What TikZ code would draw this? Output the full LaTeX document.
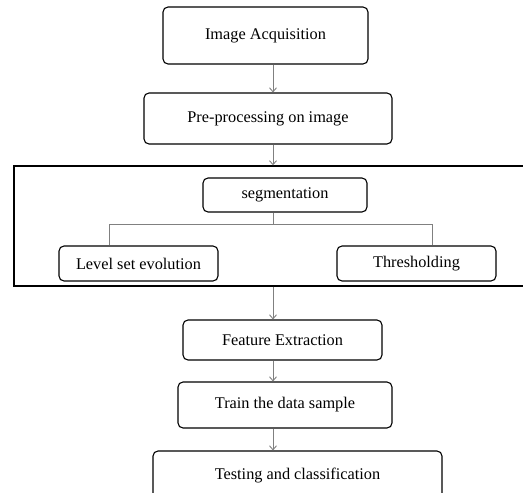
\documentclass[tikz,border=0pt]{standalone}
\usepackage{fontspec}
\setmainfont{Liberation Serif}
\usetikzlibrary{arrows.meta}
\begin{document}
\begin{tikzpicture}[x=1pt,y=-1pt,
  box/.style={draw=black, rounded corners=5pt, line width=1.1pt, inner sep=0pt,
    font=\fontsize{16.3}{19}\selectfont, align=center},
  arr/.style={draw=black!50, line width=0.9pt, -{Straight Barb[length=4pt,width=7pt]}},
  conn/.style={draw=black!50, line width=0.9pt},
  frame/.style={draw=black, line width=1.4pt}]
\path[use as bounding box, clip] (0,0) rectangle (523,493);
\fill[white] (0,0) rectangle (523,493);
\coordinate (col) at (273,0);
\node[box, minimum width=205pt, minimum height=57pt] (A) at (265.5,35.5) {Image Acquisition};
\node[box, minimum width=248pt, minimum height=51pt] (B) at (268,118.5) {Pre-processing on image};
\node[frame, inner sep=0pt, minimum width=520pt, minimum height=120pt] (R) at (274,226) {};
\node[box, minimum width=164pt, minimum height=34pt] (S) at (285,195) {segmentation};
\node[box, minimum width=159pt, minimum height=35pt] (L) at (138.5,263.5) {Level set evolution};
\node[box, minimum width=159pt, minimum height=35pt] (T) at (416.5,263.5) {Thresholding};
\node[box, minimum width=199pt, minimum height=40pt] (F) at (282.5,340) {Feature Extraction};
\node[box, minimum width=214pt, minimum height=46pt] (D) at (285,405) {Train the data sample};
\node[box, minimum width=289pt, minimum height=50pt] (E) at (297.5,476) {Testing and classification};
\coordinate (bj) at (273,224);
\coordinate (bl) at (109,224);
\coordinate (br) at (432,224);
\draw[arr] (A.south -| col) -- (B.north -| col);
\draw[arr] (B.south -| col) -- (R.north -| col);
\draw[conn] (S.south -| col) -- (bj);
\draw[conn] (L.north -| bl) -- (bl) -- (br) -- (T.north -| br);
\draw[arr] (R.south -| col) -- (F.north -| col);
\draw[arr] (F.south -| col) -- (D.north -| col);
\draw[arr] (D.south -| col) -- (E.north -| col);
\end{tikzpicture}
\end{document}
